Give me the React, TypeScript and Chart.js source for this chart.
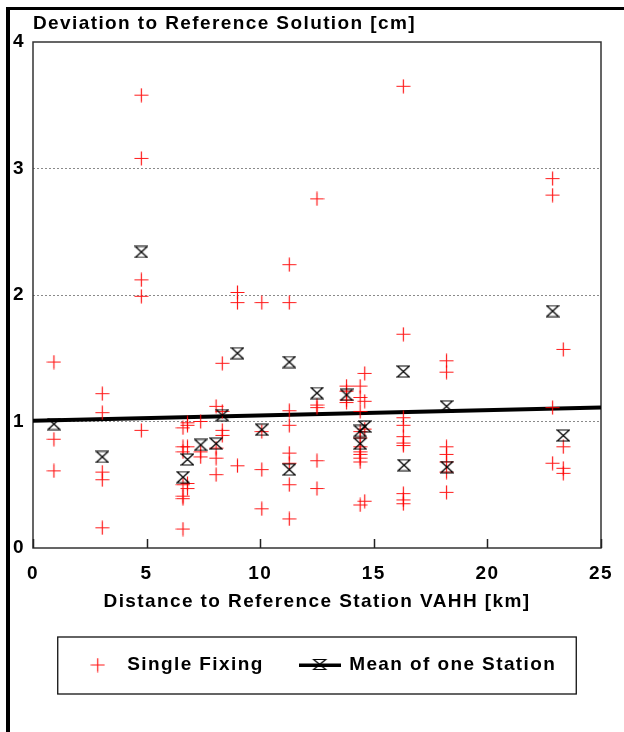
import React, { useEffect, useRef } from 'react';
import { Chart, registerables } from 'chart.js';

Chart.register(...registerables);

// distance of each station group [km] and the single fixings read at it [cm]
const fixDistance = [0.92, 3.05, 4.77, 6.6, 6.8, 7.38, 8.06, 8.33, 9.0, 10.07, 11.28, 12.5, 13.8, 14.4, 14.6, 16.3, 18.2, 22.87, 23.34];
const fixDeviation = [
    [1.47, 0.86, 0.61],
    [1.22, 1.07, 0.6, 0.54, 0.16],
    [3.58, 3.08, 2.12, 1.99, 0.93],
    [0.95, 0.8, 0.76, 0.5, 0.41, 0.39, 0.15],
    [0.99, 0.97, 0.8, 0.51, 0.47],
    [1.0, 0.76, 0.72],
    [1.12, 0.79, 0.71, 0.58],
    [1.46, 1.08, 0.93, 0.89],
    [2.02, 1.94, 0.65],
    [1.94, 0.92, 0.62, 0.31],
    [2.24, 1.94, 1.085, 0.97, 0.75, 0.67, 0.5, 0.23],
    [2.76, 1.13, 1.11, 0.69, 0.47],
    [1.28, 1.24, 1.17, 1.15],
    [1.28, 1.19, 1.08, 0.92, 0.87, 0.8, 0.76, 0.74, 0.71, 0.68, 0.34],
    [1.38, 1.16, 0.94, 0.37],
    [3.65, 1.69, 1.03, 0.97, 0.88, 0.83, 0.81, 0.43, 0.38, 0.35],
    [1.48, 1.39, 0.8, 0.74, 0.68, 0.6, 0.44],
    [2.92, 2.79, 1.11, 0.67],
    [1.57, 0.8, 0.63, 0.59],
];

// mean of one station
const meanDistance = [0.92, 3.05, 4.77, 6.6, 6.8, 7.38, 8.06, 8.33, 9.0, 10.07, 11.28, 11.28, 12.5, 13.8, 14.6, 14.4, 14.4, 16.3, 16.33, 18.2, 18.22, 22.87, 23.34];
const meanDeviation = [0.98, 0.72, 2.34, 0.56, 0.7, 0.815, 0.825, 1.05, 1.54, 0.935, 1.47, 0.62, 1.225, 1.21, 0.96, 0.925, 0.825, 1.395, 0.655, 1.12, 0.64, 1.873, 0.889];

// regression line
const trendDistance = [0, 25];
const trendDeviation = [1.005, 1.11];

const FONT = "'Liberation Sans', Arial, sans-serif";
const SPACING = '1.4px';
const font = { family: FONT, size: 19, weight: 'bold' as const };

function drawPlus(g: CanvasRenderingContext2D, cx: number, cy: number, r: number) {
    g.strokeStyle = 'rgba(255,0,0,0.9)';
    g.lineWidth = 1.2;
    g.beginPath();
    g.moveTo(cx - r, cy);
    g.lineTo(cx + r, cy);
    g.moveTo(cx, cy - r);
    g.lineTo(cx, cy + r);
    g.stroke();
}

function drawHourglass(g: CanvasRenderingContext2D, x: number, y: number, w: number, h: number) {
    g.strokeStyle = '#000';
    g.lineWidth = 1.2;
    g.beginPath();
    g.moveTo(x, y);
    g.lineTo(x + w, y);
    g.lineTo(x, y + h);
    g.lineTo(x + w, y + h);
    g.closePath();
    g.stroke();
}

function makeCanvas(w: number, h: number, paint: (g: CanvasRenderingContext2D) => void) {
    const c = document.createElement('canvas');
    c.width = w;
    c.height = h;
    paint(c.getContext('2d')!);
    return c;
}

const App: React.FC = () => {
    const chartRef = useRef<HTMLCanvasElement>(null);

    useEffect(() => {
        document.body.style.margin = '0';
        if (!chartRef.current) return;

        const plus = makeCanvas(15, 15, (g) => drawPlus(g, 7.5, 7.5, 7));
        const hourglass = makeCanvas(14, 13, (g) => drawHourglass(g, 1, 1, 12, 11));
        const meanLegend = makeCanvas(42, 14, (g) => {
            g.fillStyle = '#000';
            g.fillRect(0, 5.5, 42, 3.5);
            drawHourglass(g, 15, 1.5, 12, 10);
        });

        const fixPoints = fixDistance.flatMap((x, i) => fixDeviation[i].map((y) => ({ x, y })));
        const meanPoints = meanDistance.map((x, i) => ({ x, y: meanDeviation[i] }));
        const trendPoints = trendDistance.map((x, i) => ({ x, y: trendDeviation[i] }));

        const framePlugin = {
            id: 'frame',
            beforeUpdate(chart: any) {
                chart.ctx.letterSpacing = SPACING;
            },
            beforeDraw(chart: any) {
                chart.ctx.letterSpacing = SPACING;
            },
            beforeDatasetsDraw(chart: any) {
                const { ctx, chartArea: a } = chart;
                const xs = chart.scales.x;
                ctx.save();
                ctx.strokeStyle = '#333';
                ctx.lineWidth = 1.5;
                ctx.strokeRect(a.left, a.top, a.right - a.left, a.bottom - a.top);
                // tick marks point inward from the bottom axis
                ctx.strokeStyle = '#222';
                ctx.beginPath();
                xs.ticks.forEach((t: any) => {
                    const px = Math.round(xs.getPixelForValue(t.value)) + 0.5;
                    ctx.moveTo(px, a.bottom);
                    ctx.lineTo(px, a.bottom - 9);
                });
                ctx.stroke();
                ctx.restore();
            },
            afterDraw(chart: any) {
                const boxes = chart.legend?.legendHitBoxes;
                if (!boxes || !boxes.length) return;
                const first = boxes[0];
                const last = boxes[boxes.length - 1];
                const x1 = first.left - 20;
                const x2 = last.left + last.width + 20;
                const yc = first.top + first.height / 2;
                const ctx = chart.ctx;
                ctx.save();
                ctx.strokeStyle = '#111';
                ctx.lineWidth = 1.3;
                ctx.strokeRect(x1, yc - 28, x2 - x1, 57);
                ctx.restore();
            },
        };

        const myChart = new Chart(chartRef.current, {
            type: 'scatter',
            data: {
                datasets: [
                    {
                        label: 'Mean of one Station',
                        data: meanPoints,
                        pointStyle: hourglass,
                        pointRadius: 6,
                        order: 0,
                    },
                    {
                        label: 'Single Fixing',
                        data: fixPoints,
                        pointStyle: plus,
                        pointRadius: 7,
                        order: 1,
                    },
                    {
                        label: 'Trend',
                        data: trendPoints,
                        showLine: true,
                        borderColor: '#000',
                        borderWidth: 4,
                        pointRadius: 0,
                        order: 2,
                    },
                ],
            },
            options: {
                animation: false,
                responsive: true,
                maintainAspectRatio: false,
                layout: { padding: { top: 9.2, left: 0, right: 23, bottom: 47.5 } },
                scales: {
                    x: {
                        type: 'linear',
                        min: 0,
                        max: 25,
                        ticks: { stepSize: 5, color: '#000', font, padding: 0.6 },
                        grid: {
                            drawOnChartArea: false,
                            drawTicks: true,
                            tickLength: 14,
                            tickColor: 'transparent',
                        },
                        border: { display: false },
                        title: {
                            display: true,
                            text: 'Distance to Reference Station VAHH [km]',
                            color: '#000',
                            font,
                            padding: { top: 0, bottom: 6 },
                        },
                        afterFit: (s: any) => {
                            s.height = 71.5;
                        },
                    },
                    y: {
                        min: 0,
                        max: 4,
                        ticks: { stepSize: 1, color: '#000', font, padding: 8 },
                        grid: {
                            drawTicks: false,
                            color: (c: any) => (c.tick && c.tick.value > 0 && c.tick.value < 4 ? '#8a8a8a' : 'transparent'),
                            lineWidth: 1,
                        },
                        border: { display: false, dash: [2, 2] },
                        afterFit: (s: any) => {
                            s.width = 33;
                        },
                    },
                },
                plugins: {
                    title: {
                        display: true,
                        text: 'Deviation to Reference Solution [cm]',
                        align: 'start',
                        fullSize: false,
                        color: '#000',
                        font,
                        padding: { top: 3, bottom: 7 },
                    },
                    legend: {
                        position: 'bottom',
                        fullSize: false,
                        labels: {
                            usePointStyle: true,
                            pointStyleWidth: 40,
                            padding: 36,
                            color: '#000',
                            font,
                            generateLabels: () => [
                                {
                                    text: 'Single Fixing',
                                    pointStyle: plus,
                                    fillStyle: 'transparent',
                                    strokeStyle: 'transparent',
                                    lineWidth: 0,
                                    hidden: false,
                                    datasetIndex: 1,
                                    fontColor: '#000',
                                },
                                {
                                    text: 'Mean of one Station',
                                    pointStyle: meanLegend,
                                    fillStyle: 'transparent',
                                    strokeStyle: 'transparent',
                                    lineWidth: 0,
                                    hidden: false,
                                    datasetIndex: 0,
                                    fontColor: '#000',
                                },
                            ],
                        },
                    },
                    tooltip: { enabled: false },
                },
            },
            plugins: [framePlugin],
        } as any);

        return () => {
            myChart.destroy();
        };
    }, []);

    return (
        <div style={{ position: 'relative', width: 624, height: 732, background: '#fff' }}>
            <div
                style={{
                    position: 'absolute',
                    left: 6,
                    top: 6.5,
                    right: 0,
                    bottom: 0,
                    borderLeft: '4px solid #000',
                    borderTop: '3.5px solid #000',
                }}
            />
            <canvas ref={chartRef} style={{ position: 'absolute', left: 0, top: 0 }} />
        </div>
    );
};

export default App;
